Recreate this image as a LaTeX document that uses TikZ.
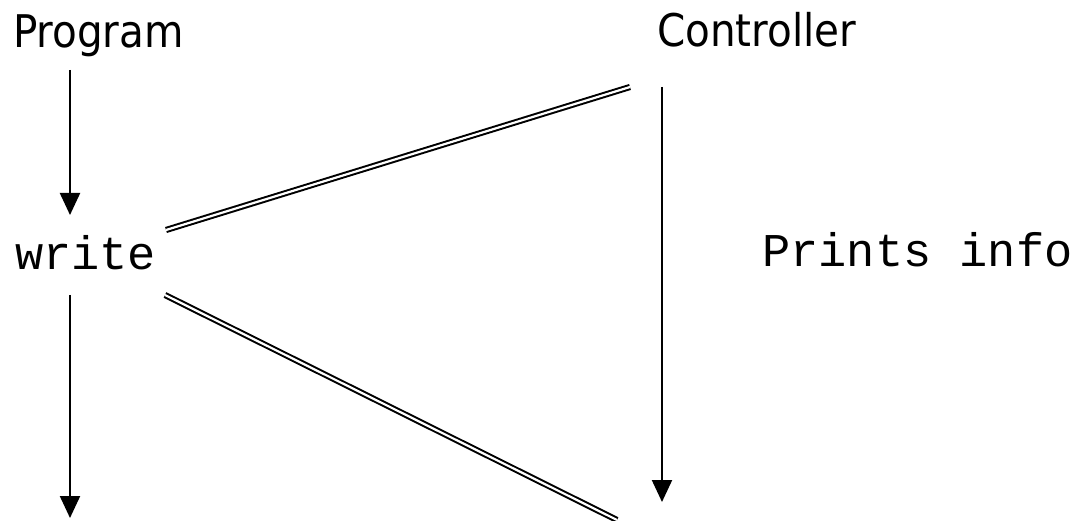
\documentclass[tikz,border=0pt]{standalone}
\usepackage{fontspec}
\usepackage{tikz}
\usetikzlibrary{arrows.meta,positioning}
\setmonofont{Liberation Mono}
\newfontfamily\labelfont{DejaVu Sans Condensed}

\begin{document}
\begin{tikzpicture}[
  x=1pt, y=1pt,
  >={Triangle[width=20pt,length=22pt]},
  % Text styles
  actor/.style={
    font=\labelfont\fontsize{45}{50}\selectfont,
    inner sep=0pt, anchor=base west
  },
  code/.style={
    font=\ttfamily\fontsize{47}{52}\selectfont,
    inner sep=0pt, anchor=base west
  },
  arrow/.style={->, line width=2.2pt},
  link/.style={double, line width=2pt, double distance=2.2pt}
]
\useasboundingbox (0,0) rectangle (1080,520);

% ── Labels ───────────────────────────────────────────────────────────────────
\node[actor] (prog) at (13,472)  {Program};
\node[actor] (ctrl) at (657,473) {Controller};
\node[code]  (wr)   at (15,250)  {write};
\node[code]  (info) at (762,253) {Prints info};

% ── Arrow end points ─────────────────────────────────────────────────────────
\coordinate (progout) at (70,450);
\coordinate (wrin)    at (70,305);
\coordinate (wrout)   at (70,225);
\coordinate (wrend)   at (70,2);
\coordinate (ctrlout) at (662,433);
\coordinate (ctrlend) at (662,18);

% ── Link end points ──────────────────────────────────────────────────────────
\coordinate (upA) at (166,290);
\coordinate (upB) at (630,433);
\coordinate (dnA) at (165,225);
\coordinate (dnB) at (617,0);

% ── Arrows ───────────────────────────────────────────────────────────────────
\draw[arrow] (progout) -- (wrin);
\draw[arrow] (wrout) -- (wrend);
\draw[arrow] (ctrlout) -- (ctrlend);

% ── Double links ─────────────────────────────────────────────────────────────
\draw[link] (upA) -- (upB);
\draw[link] (dnA) -- (dnB);

\end{tikzpicture}
\end{document}
